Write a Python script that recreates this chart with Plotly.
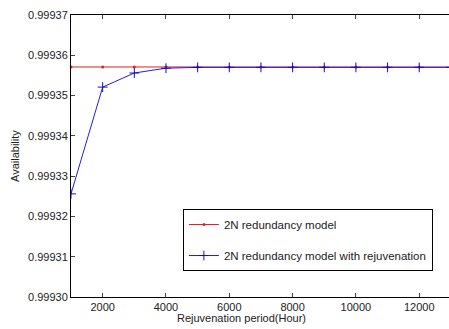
import plotly.graph_objects as go

periods = [1000, 2000, 3000, 4000, 5000, 6000, 7000, 8000, 9000, 10000, 11000, 12000, 13000]
avail_2n = [0.9993571] * 13
avail_2n_rej = [0.9993256, 0.9993521, 0.9993556, 0.9993568, 0.999357, 0.999357, 0.999357,
                0.999357, 0.999357, 0.999357, 0.999357, 0.999357, 0.999357]
x_ticks = [2000, 4000, 6000, 8000, 10000, 12000]
x_labels = ["2000", "4000", "6000", "8000", "10000", "12000"]
y_ticks = [0.99930, 0.99931, 0.99932, 0.99933, 0.99934, 0.99935, 0.99936, 0.99937]

fig = go.Figure()
fig.add_trace(go.Scatter(x=periods, y=avail_2n, mode="lines+markers",
                         name="2N redundancy model", legendgroup="a",
                         line=dict(color="#e02020", width=1),
                         marker=dict(symbol="circle", size=3, color="#e02020")))
fig.add_trace(go.Scatter(x=periods, y=avail_2n_rej, mode="lines+markers",
                         name="2N redundancy model with rejuvenation", legendgroup="b",
                         line=dict(color="#2020e0", width=1),
                         marker=dict(symbol="cross-thin", size=7,
                                     line=dict(color="#1010c0", width=1))))

fig.update_layout(
    width=449, height=329,
    margin=dict(l=71, r=0, t=15, b=32),
    paper_bgcolor="white", plot_bgcolor="white",
    font=dict(family="Liberation Sans, Arial, sans-serif", size=11, color="#222"),
    showlegend=True,
    legend=dict(x=0.296, y=0.312, xanchor="left", yanchor="top",
                bordercolor="black", borderwidth=1, bgcolor="white",
                font=dict(size=11.5), tracegroupgap=12),
    xaxis=dict(range=[1000, 12940], tickvals=x_ticks, ticktext=x_labels,
               ticks="inside", ticklen=4, automargin=False,
               showline=True, linecolor="black", linewidth=1, mirror="ticks",
               showgrid=False, zeroline=False),
    yaxis=dict(range=[0.99930, 0.99937], tickvals=y_ticks, tickformat=".5f",
               ticks="inside", ticklen=4, automargin=False,
               showline=True, linecolor="black", linewidth=1, mirror=False,
               showgrid=False, zeroline=False),
)
fig.add_annotation(text="Rejuvenation period(Hour)", xref="paper", yref="paper",
                   x=(241 - 71) / 378, y=(297 - 318) / 282, showarrow=False, font=dict(size=11),
                   xanchor="center", yanchor="middle")
fig.add_annotation(text="Availability", xref="paper", yref="paper",
                   x=(15 - 71) / 378, y=0.5, showarrow=False, font=dict(size=11),
                   textangle=-90, xanchor="center", yanchor="middle")

fig.write_html(
    "out.html",
    config={"displayModeBar": False},
    post_script="document.body.style.margin='0';document.documentElement.style.overflow='hidden';document.body.style.overflow='hidden';",
)
